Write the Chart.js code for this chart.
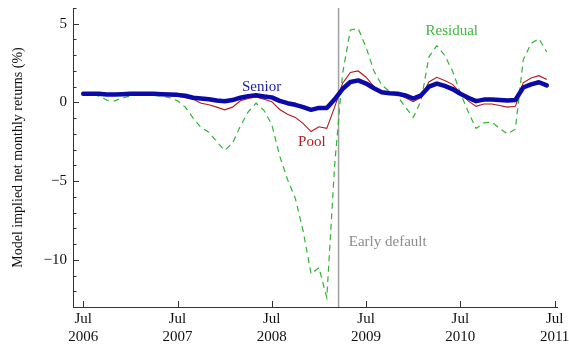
<!DOCTYPE html>
<html>
<head>
<meta charset="utf-8">
<script src="https://cdn.jsdelivr.net/npm/chart.js@4/dist/chart.umd.min.js"></script>
<style>
html,body{margin:0;padding:0;background:#fff;}
#wrap{width:569px;height:348px;position:relative;}
</style>
</head>
<body>
<div id="wrap"><canvas id="c" width="569" height="348"></canvas></div>
<script>
// Months since Jul 2006 (index 0 = Jul 2006, 59 = Jun 2011)
const seniorReturns = [0.55,0.55,0.55,0.5,0.5,0.52,0.55,0.55,0.55,0.55,0.52,0.5,
  0.48,0.42,0.3,0.25,0.2,0.12,0.08,0.15,0.3,0.4,0.45,0.38,
  0.32,0.1,-0.05,-0.15,-0.3,-0.47,-0.35,-0.36,0.2,0.85,1.3,1.4,
  1.2,0.9,0.65,0.58,0.55,0.45,0.25,0.45,1.0,1.2,1.05,0.85,
  0.55,0.3,0.08,0.18,0.18,0.15,0.12,0.15,0.95,1.15,1.28,1.08];
const poolReturns = [0.55,0.55,0.55,0.5,0.5,0.52,0.55,0.55,0.55,0.52,0.5,0.45,
  0.4,0.3,0.2,-0.05,-0.15,-0.3,-0.47,-0.3,0.1,0.25,0.35,0.2,
  0.05,-0.45,-0.75,-0.95,-1.35,-1.85,-1.55,-1.65,-0.3,1.2,1.9,2.0,
  1.6,1.0,0.65,0.58,0.5,0.3,0.05,0.3,1.3,1.6,1.4,1.15,
  0.6,0.1,-0.25,-0.1,-0.1,-0.2,-0.3,-0.25,1.25,1.55,1.7,1.45];
const residualReturns = [0.55,0.55,0.4,0.15,0.1,0.3,0.4,0.5,0.5,0.45,0.4,0.3,
  0.1,-0.3,-1.0,-1.6,-1.9,-2.5,-3.05,-2.6,-1.5,-0.6,-0.05,-0.5,
  -1.4,-3.4,-4.9,-6.1,-8.2,-10.9,-10.5,-12.4,-4.0,1.8,4.6,4.7,
  3.5,2.0,1.1,0.7,0.4,-0.3,-0.95,0.1,2.9,3.6,3.0,2.0,
  0.6,-0.6,-1.65,-1.3,-1.25,-1.65,-2.0,-1.7,2.7,3.75,4.05,3.2];
const xTickMonths = [0,12,24,36,48,60];
const xTickLabels = [['Jul','2006'],['Jul','2007'],['Jul','2008'],['Jul','2009'],['Jul','2010'],['Jul','2011']];
const earlyDefaultMonth = 32.5;
const yMajorTicks = [-10,-5,0,5];
const seriesLabels = [
  {text:'Senior', x:22.7, y:0.96, color:'#1c1ca8'},
  {text:'Pool', x:29.1, y:-2.55, color:'#b42020'},
  {text:'Residual', x:46.9, y:4.52, color:'#3cb83c'},
  {text:'Early default', x:33.8, y:-8.9, color:'#8c8c8c', align:'left'}
];

const FONT = "'Liberation Serif', 'DejaVu Serif', serif";
const toXY = arr => arr.map((v,i)=>({x:i,y:v}));

const innerTicks = {
  id:'innerTicks',
  afterDraw(chart){
    const ctx = chart.ctx, xs = chart.scales.x, ys = chart.scales.y;
    ctx.save();
    ctx.strokeStyle = '#333';
    ctx.lineWidth = 1;
    const left = xs.left, bottom = ys.bottom;
    for(let v=-13; v<=6; v++){
      const py = Math.round(ys.getPixelForValue(v))+0.5;
      const len = (v%5===0)?6:3.5;
      ctx.beginPath(); ctx.moveTo(left,py); ctx.lineTo(left+len,py); ctx.stroke();
    }
    xTickMonths.forEach(m=>{
      const px = Math.round(xs.getPixelForValue(m))+0.5;
      ctx.beginPath(); ctx.moveTo(px,bottom); ctx.lineTo(px,bottom-6); ctx.stroke();
    });
    ctx.restore();
  }
};

const textLabels = {
  id:'textLabels',
  afterDatasetsDraw(chart){
    const ctx = chart.ctx, xs = chart.scales.x, ys = chart.scales.y;
    ctx.save();
    ctx.font = "15px " + FONT;
    ctx.textBaseline = 'middle';
    seriesLabels.forEach(l=>{
      ctx.fillStyle = l.color;
      ctx.textAlign = l.align || 'center';
      ctx.fillText(l.text, xs.getPixelForValue(l.x), ys.getPixelForValue(l.y));
    });
    ctx.restore();
  }
};

new Chart(document.getElementById('c'), {
  type:'line',
  data:{
    datasets:[
      {label:'Senior', data:toXY(seniorReturns), borderColor:'#0a0aa8', borderWidth:4.5, pointRadius:0, tension:0, borderJoinStyle:'round', borderCapStyle:'round'},
      {label:'Pool', data:toXY(poolReturns), borderColor:'#b41818', borderWidth:1.1, pointRadius:0, tension:0},
      {label:'Residual', data:toXY(residualReturns), borderColor:'#2fb52f', borderWidth:1.2, borderDash:[6,4.5], pointRadius:0, tension:0},
      {label:'Early default', data:[{x:earlyDefaultMonth,y:-13},{x:earlyDefaultMonth,y:6}], borderColor:'#a0a0a0', borderWidth:1.5, pointRadius:0}
    ]
  },
  options:{
    responsive:false,
    animation:false,
    devicePixelRatio:1,
    layout:{padding:{top:8,right:12,left:0,bottom:0}},
    plugins:{legend:{display:false}, tooltip:{enabled:false}},
    scales:{
      x:{
        type:'linear', min:-1.3, max:60.3,
        afterBuildTicks:s=>{ s.ticks = xTickMonths.map(v=>({value:v})); },
        afterFit:s=>{ s.height = 41; s.paddingLeft = 0; s.paddingRight = 0; },
        ticks:{
          autoSkip:false, maxRotation:0, padding:3, color:'#111',
          font:{family:FONT,size:15,lineHeight:1.2},
          callback:(v)=>{ const i = xTickMonths.indexOf(v); return i>=0 ? xTickLabels[i] : ''; }
        },
        grid:{drawOnChartArea:false, drawTicks:false},
        border:{display:true, color:'#333', width:1}
      },
      y:{
        min:-13, max:6,
        afterBuildTicks:s=>{ s.ticks = yMajorTicks.map(v=>({value:v})); },
        afterFit:s=>{ s.width = 73; s.paddingTop = 0; s.paddingBottom = 0; },
        ticks:{
          padding:6, color:'#111',
          font:{family:FONT,size:15},
          callback:v=> v<0 ? '\u2212'+Math.abs(v) : String(v)
        },
        grid:{drawOnChartArea:false, drawTicks:false},
        border:{display:true, color:'#333', width:1},
        title:{display:true, text:'Model implied net monthly returns (%)', color:'#111', font:{family:FONT,size:14}, padding:{top:10,bottom:0}}
      }
    }
  },
  plugins:[innerTicks, textLabels]
});
</script>
</body>
</html>
